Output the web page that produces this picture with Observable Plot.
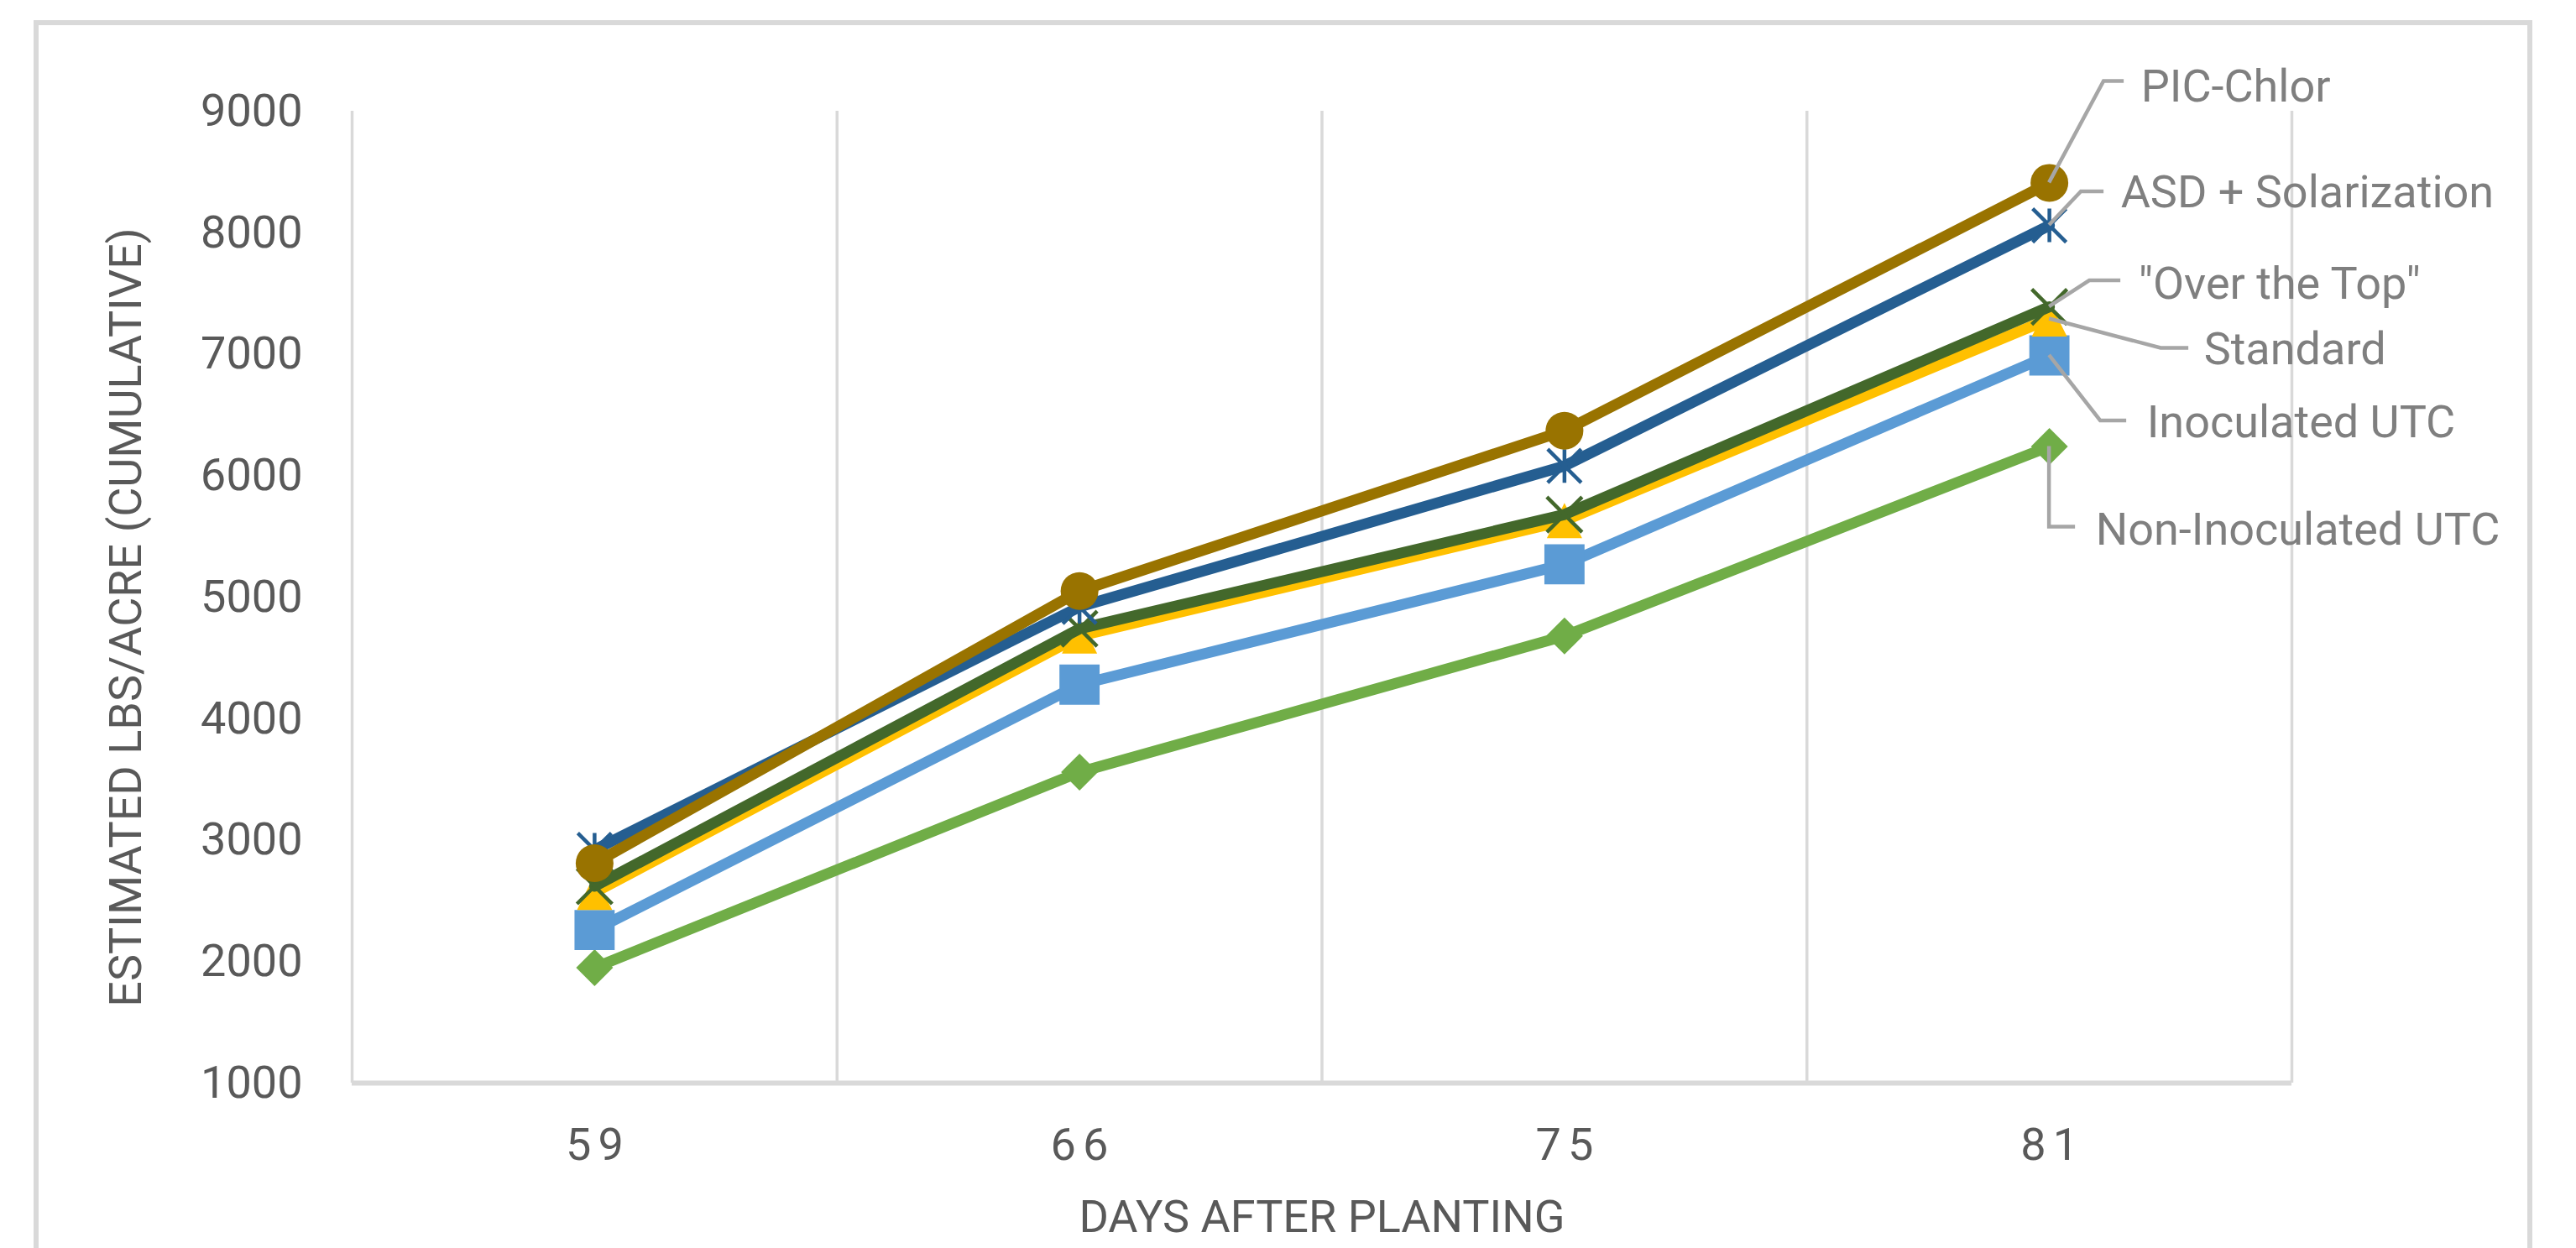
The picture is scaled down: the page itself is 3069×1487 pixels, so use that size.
<!DOCTYPE html>
<html>
<head>
<meta charset="utf-8">
<script src="https://cdn.jsdelivr.net/npm/d3@7"></script>
<script src="https://cdn.jsdelivr.net/npm/@observablehq/plot@0.6"></script>
<style>
html, body { margin: 0; padding: 0; background: #fff; overflow: hidden; }
#wrap { position: relative; width: 3069px; height: 1487px; overflow: hidden; }
#border { position: absolute; left: 40px; top: 24px; width: 2977px; height: 1700px; border: 6px solid #d9d9d9; box-sizing: border-box; }
#chart { position: absolute; left: 0; top: 0; }
</style>
</head>
<body>
<div id="wrap"><div id="border"></div><div id="chart"></div></div>
<script>
// ---- data ----
const days = ["59", "66", "75", "81"];
const seriesNames = ["Non-Inoculated UTC", "Inoculated UTC", "Standard", "\"Over the Top\"", "ASD + Solarization", "PIC-Chlor"];
const nonInoculatedUTC = [1950, 3560, 4680, 6240];
const inoculatedUTC    = [2260, 4280, 5270, 6990];
const standard         = [2570, 4680, 5630, 7290];
const overTheTop       = [2620, 4740, 5680, 7390];
const asdSolarization  = [2920, 4920, 6080, 8060];
const picChlor         = [2810, 5050, 6370, 8410];
const yTicks = [1000, 2000, 3000, 4000, 5000, 6000, 7000, 8000, 9000];
const xTitle = "DAYS AFTER PLANTING";
const yTitle = "ESTIMATED LBS/ACRE (CUMULATIVE)";

const seriesValues = [nonInoculatedUTC, inoculatedUTC, standard, overTheTop, asdSolarization, picChlor];

// ---- styles ----
const colors = ["#70AD47", "#5B9BD5", "#FFC000", "#43682B", "#255E91", "#997300"];
const excelDiamond = {draw(ctx, size) { const r = Math.sqrt(size / Math.PI); ctx.moveTo(0, -r); ctx.lineTo(r, 0); ctx.lineTo(0, r); ctx.lineTo(-r, 0); ctx.closePath(); }};
const excelTriangle = {draw(ctx, size) { const r = Math.sqrt(size / Math.PI); ctx.moveTo(0, -r); ctx.lineTo(r, r); ctx.lineTo(-r, r); ctx.closePath(); }};
const excelX = {draw(ctx, size) { const r = Math.sqrt(size / Math.PI); ctx.moveTo(-r, -r); ctx.lineTo(r, r); ctx.moveTo(-r, r); ctx.lineTo(r, -r); }};
const excelStar = {draw(ctx, size) { const r = Math.sqrt(size / Math.PI); ctx.moveTo(-r, -r); ctx.lineTo(r, r); ctx.moveTo(-r, r); ctx.lineTo(r, -r); ctx.moveTo(0, -r); ctx.lineTo(0, r); }};
const markerStyle = [
  {symbol: excelDiamond, r: 22, filled: true},
  {symbol: "square", r: 27, filled: true},
  {symbol: excelTriangle, r: 21, filled: true},
  {symbol: excelX, r: 21, filled: false},
  {symbol: excelStar, r: 20, filled: false},
  {symbol: "circle", r: 22.5, filled: true}
];
// label layout, pixel offsets from the last point: text [dx,dy], leader elbow, leader end
const labelLayout = [
  {tx: 55,  ty: 100, ex: 0,   ey: 96,  hx: 31,  hy: 96},
  {tx: 116, ty: 80,  ex: 61,  ey: 78,  hx: 92,  hy: 78},
  {tx: 184, ty: 37,  ex: 133, ey: 35,  hx: 166, hy: 35},
  {tx: 106, ty: -27, ex: 48,  ey: -31, hx: 85,  hy: -31},
  {tx: 85,  ty: -39, ex: 38,  ey: -40, hx: 65,  hy: -40},
  {tx: 109, ty: -114, ex: 65, ey: -121, hx: 89, hy: -121}
];
const FONT = 54;
const tickColor = "#595959";
const labelColor = "#7f7f7f";

// ---- table ----
const rows = seriesNames.flatMap((name, s) => days.map((d, i) => ({series: name, s, i, value: seriesValues[s][i]})));
const last = days.length - 1;

const marks = [
  Plot.ruleX(d3.range(days.length + 1).map(i => i - 0.5), {stroke: "#d9d9d9", strokeWidth: 3.5}),
  Plot.ruleY([yTicks[0]], {stroke: "#d9d9d9", strokeWidth: 6}),
  Plot.axisY(yTicks, {tickSize: 0, tickPadding: 59, tickFormat: d => String(d), fontSize: FONT, fill: tickColor, label: null}),
  Plot.axisX(d3.range(days.length), {tickFormat: i => days[i], tickSize: 0, tickPadding: 53, fontSize: FONT, fill: tickColor, label: null}),
  Plot.text([xTitle], {frameAnchor: "bottom", dy: 160, textAnchor: "middle", lineAnchor: "middle", fontSize: FONT, fill: tickColor}),
  Plot.text([yTitle], {frameAnchor: "left", dx: -269, dy: 24, rotate: -90, textAnchor: "middle", lineAnchor: "middle", fontSize: FONT, fill: tickColor})
];

seriesNames.forEach((name, s) => {
  const data = rows.filter(d => d.s === s);
  marks.push(Plot.line(data, {x: "i", y: "value", stroke: colors[s], strokeWidth: 13, strokeLinejoin: "round", strokeLinecap: "round"}));
  const m = markerStyle[s];
  marks.push(Plot.dot(data, {
    x: "i", y: "value", symbol: m.symbol, r: m.r,
    fill: m.filled ? colors[s] : "none",
    stroke: m.filled ? "none" : colors[s],
    strokeWidth: m.filled ? 0 : 4.5
  }));
});

seriesNames.forEach((name, s) => {
  const L = labelLayout[s];
  marks.push(Plot.text([{i: last, value: seriesValues[s][last], name}], {
    x: "i", y: "value", text: "name", dx: L.tx, dy: L.ty,
    textAnchor: "start", lineAnchor: "middle", fontSize: FONT, fill: labelColor
  }));
});

const chart = Plot.plot({
  width: 3069,
  height: 1487,
  marginLeft: 419,
  marginRight: 339,
  marginTop: 132,
  marginBottom: 197,
  style: {fontFamily: "Roboto, 'Open Sans', sans-serif", background: "transparent", overflow: "visible"},
  x: {type: "linear", domain: [-0.5, days.length - 0.5], axis: null},
  y: {type: "linear", domain: [yTicks[0], yTicks[yTicks.length - 1]], axis: null},
  marks
});

// leader lines for the data labels
const sx = chart.scale("x"), sy = chart.scale("y");
const g = d3.select(chart).append("g").attr("fill", "none").attr("stroke", "#a6a6a6").attr("stroke-width", 4.5);
seriesNames.forEach((name, s) => {
  const L = labelLayout[s];
  const px = sx.apply(last), py = sy.apply(seriesValues[s][last]);
  g.append("path").attr("d", `M${px},${py}L${px + L.ex},${py + L.ey}L${px + L.hx},${py + L.hy}`);
});

// slight letter spacing on the category labels, as in the original
d3.select(chart).selectAll('[aria-label="x-axis tick label"] text').attr("letter-spacing", "8px").attr("dx", "4");

document.getElementById("chart").appendChild(chart);
</script>
</body>
</html>
